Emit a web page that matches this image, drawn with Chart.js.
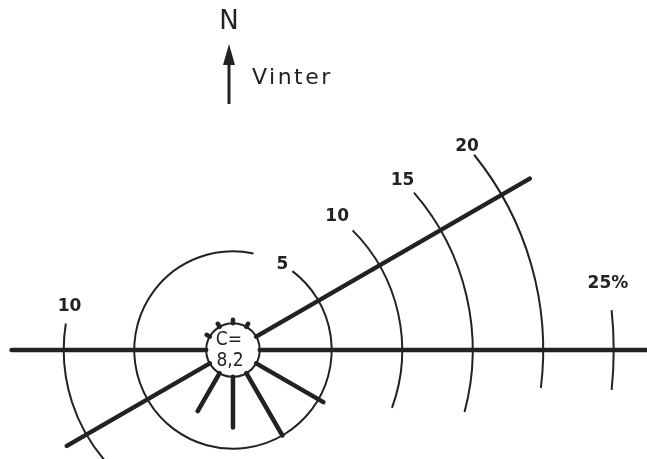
<!DOCTYPE html>
<html>
<head>
<meta charset="utf-8">
<script src="https://cdn.jsdelivr.net/npm/chart.js@4"></script>
<style>
  html, body { margin: 0; padding: 0; background: #fff; }
  canvas { display: block; }
</style>
</head>
<body>
<canvas id="windRose" width="647" height="459"></canvas>
<script>
// Winter wind rose: frequency per 30° sector (% of time), calm in the middle
const directions = [0, 30, 60, 90, 120, 150, 180, 210, 240, 270, 300, 330];
const winterPct = [0.15, 0.15, 22.3, 27.5, 5.4, 5.0, 3.5, 3.0, 11.6, 13.7, 0.15, 0.15];
const calmPct = 8.2;
const ringPct = [5, 10, 15, 20, 25];
const ringText = ["5", "10", "15", "20", "25%"];

// radius of a bar = calm offset + percentage (1 unit = 1 %)
const OFFSET = 2;
const CALM_R = 1.9;
const INK = "#222";

// visible pieces of each ring: [ring %, from°, to°, label°] (compass degrees)
const arcSpans = [
  [5, 37, 372, 30],
  [10, 45, 110, 38],
  [10, 225, 279, 285],
  [15, 49, 105, 45],
  [20, 51, 97, 49],
  [25, 84, 96, 80],
];

function polar(deg, r) {
  const a = (deg * Math.PI) / 180;
  return { x: r * Math.sin(a), y: r * Math.cos(a) };
}

// one line piece per sector, separated by gaps
const spokePoints = [];
directions.forEach((d, i) => {
  spokePoints.push(polar(d, CALM_R));
  spokePoints.push(polar(d, OFFSET + winterPct[i]));
  spokePoints.push({ x: null, y: null });
});

const rosePlugin = {
  id: "rosePlugin",
  beforeDatasetsDraw(chart) {
    const { ctx, scales } = chart;
    const cx = scales.x.getPixelForValue(0);
    const cy = scales.y.getPixelForValue(0);
    const unit = scales.x.getPixelForValue(1) - cx;
    ctx.save();
    ctx.strokeStyle = INK;
    ctx.lineWidth = 2;
    arcSpans.forEach(([p, from, to]) => {
      const r = (OFFSET + p) * unit;
      ctx.beginPath();
      ctx.arc(cx, cy, r, ((from - 90) * Math.PI) / 180, ((to - 90) * Math.PI) / 180);
      ctx.stroke();
    });
    // calm circle
    ctx.fillStyle = "#fff";
    ctx.beginPath();
    ctx.arc(cx, cy, CALM_R * unit, 0, Math.PI * 2);
    ctx.fill();
    ctx.stroke();
    ctx.restore();
  },
  afterDatasetsDraw(chart) {
    const { ctx, scales } = chart;
    const cx = scales.x.getPixelForValue(0);
    const cy = scales.y.getPixelForValue(0);
    const unit = scales.x.getPixelForValue(1) - cx;
    ctx.save();
    ctx.fillStyle = INK;
    ctx.textAlign = "center";
    ctx.textBaseline = "middle";

    // ring labels
    ctx.font = "bold 17px 'DejaVu Sans'";
    arcSpans.forEach(([p, , , lab]) => {
      const pt = polar(lab, OFFSET + p);
      const i = ringPct.indexOf(p);
      ctx.fillText(ringText[i], scales.x.getPixelForValue(pt.x), scales.y.getPixelForValue(pt.y));
    });

    // calm value
    ctx.font = "19px 'DejaVu Sans Condensed'";
    ctx.fillText("C=", cx - 4, cy - 10);
    ctx.fillText(String(calmPct).replace(".", ","), cx - 3, cy + 11);

    // north arrow and season
    ctx.font = "26px 'DejaVu Sans'";
    ctx.fillText("N", 229, 22);
    ctx.strokeStyle = INK;
    ctx.lineWidth = 3;
    ctx.beginPath();
    ctx.moveTo(229, 104);
    ctx.lineTo(229, 60);
    ctx.stroke();
    ctx.beginPath();
    ctx.moveTo(229, 44);
    ctx.lineTo(235, 65);
    ctx.lineTo(223, 65);
    ctx.closePath();
    ctx.fill();
    ctx.font = "22px 'DejaVu Sans'";
    ctx.letterSpacing = "2.5px";
    ctx.textAlign = "left";
    ctx.fillText("Vinter", 252, 78);
    ctx.restore();
  },
};

new Chart(document.getElementById("windRose").getContext("2d"), {
  type: "scatter",
  data: {
    datasets: [
      {
        label: "Vinter",
        data: spokePoints,
        showLine: true,
        spanGaps: false,
        borderColor: INK,
        borderWidth: 4.5,
        borderCapStyle: "round",
        pointRadius: 0,
        clip: false,
      },
    ],
  },
  options: {
    responsive: false,
    animation: false,
    layout: { padding: 0 },
    plugins: {
      legend: { display: false },
      tooltip: { enabled: false },
    },
    scales: {
      x: { type: "linear", min: -16.52, max: 29.36, display: false },
      y: { type: "linear", min: -7.73, max: 24.82, display: false },
    },
  },
  plugins: [rosePlugin],
});
</script>
</body>
</html>
